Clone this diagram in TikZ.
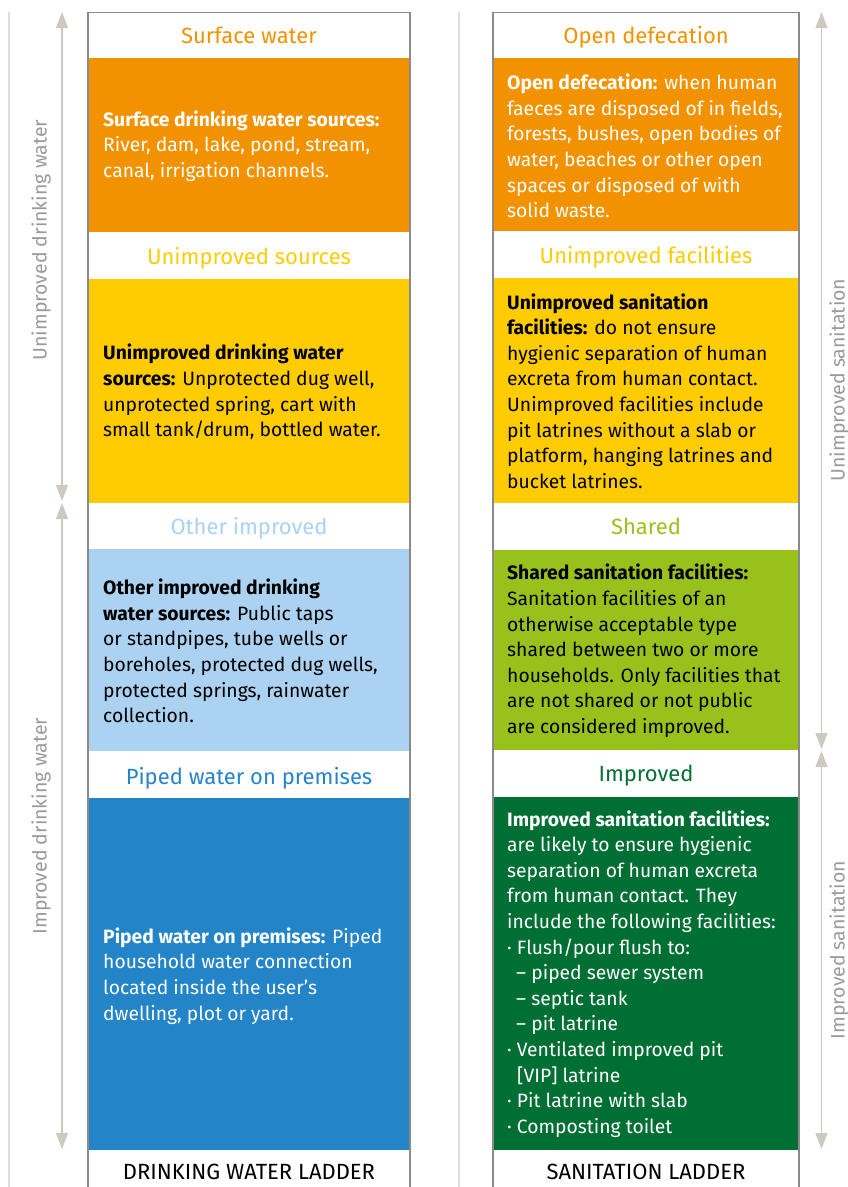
\documentclass[tikz,border=0pt]{standalone}
\usepackage{fontspec}
\setmainfont{Fira Sans}
\usetikzlibrary{arrows.meta}
\definecolor{cOrange}{HTML}{F39200}
\definecolor{cYellow}{HTML}{FECC00}
\definecolor{cLBlue}{HTML}{ABD2F1}
\definecolor{cBlue}{HTML}{2384C8}
\definecolor{cLime}{HTML}{98C21B}
\definecolor{cGreen}{HTML}{006F33}
\definecolor{cOutline}{HTML}{8A8A8A}
\definecolor{cArrow}{HTML}{CEC9BE}
\definecolor{cRule}{HTML}{DDDDDD}
\definecolor{cSide}{HTML}{9A9A9A}
\tikzset{
  bodytext/.style={anchor=west, align=left, inner sep=0pt, font=\fontsize{19.3}{25.6}\selectfont},
  headtext/.style={anchor=base, inner sep=0pt, font=\fontsize{22}{24}\selectfont},
  foottext/.style={anchor=base, inner sep=0pt, font=\fontsize{22}{24}\selectfont, text=black},
  sidetext/.style={anchor=center, inner sep=0pt, rotate=90, text=cSide, font=\fontsize{19.5}{22}\selectfont},
  ladderarrow/.style={draw=cArrow, line width=1.3pt, {Triangle[width=12pt,length=16pt]}-{Triangle[width=12pt,length=16pt]}},
  outline/.style={draw=cOutline, line width=1.3pt},
  rulel/.style={draw=cRule, line width=1.5pt}
}
\begin{document}
\begin{tikzpicture}[x=1pt,y=-1pt]
\useasboundingbox (0,0) rectangle (848,1187);
% rules
\draw[rulel] (9,12) -- (9,1187);
\draw[rulel] (459,12) -- (459,1187);
% left bands
\fill[cOrange] (88,58) rectangle (410,232);
\fill[cYellow] (88,279) rectangle (410,503);
\fill[cLBlue] (88,549) rectangle (410,751);
\fill[cBlue] (88,798) rectangle (410,1150);
% right bands
\fill[cOrange] (493,58) rectangle (799,231);
\fill[cYellow] (493,278) rectangle (799,503);
\fill[cLime] (493,550) rectangle (799,750);
\fill[cGreen] (493,797) rectangle (799,1150);
% outlines
\draw[outline] (88,1187) -- (88,12.5) -- (410,12.5) -- (410,1187);
\draw[outline] (493,1187) -- (493,12.5) -- (799,12.5) -- (799,1187);
% arrows
\coordinate (la1) at (62,12);
\coordinate (la2) at (62,501);
\coordinate (la3) at (62,503);
\coordinate (la4) at (62,1149);
\coordinate (ra1) at (821.5,12);
\coordinate (ra2) at (821.5,749);
\coordinate (ra3) at (821.5,751);
\coordinate (ra4) at (821.5,1149);
\draw[ladderarrow] (la1) -- (la2);
\draw[ladderarrow] (la3) -- (la4);
\draw[ladderarrow] (ra1) -- (ra2);
\draw[ladderarrow] (ra3) -- (ra4);
% side labels
\node[sidetext] (sl1) at (41,240) {Unimproved drinking water};
\node[sidetext] (sl2) at (41,826) {Improved drinking water};
\node[sidetext] (sr1) at (839,380) {Unimproved sanitation};
\node[sidetext] (sr2) at (839,950) {Improved sanitation};
% left headers
\node[headtext, text=cOrange] (lh1) at (249,43) {Surface water};
\node[headtext, text=cYellow] (lh2) at (249,264) {Unimproved sources};
\node[headtext, text=cLBlue] (lh3) at (249,534) {Other improved};
\node[headtext, text=cBlue] (lh4) at (249,784) {Piped water on premises};
\node[foottext] (lf) at (249,1179) {DRINKING WATER LADDER};
% right headers
\node[headtext, text=cOrange] (rh1) at (646,43) {Open defecation};
\node[headtext, text=cYellow] (rh2) at (646,263) {Unimproved facilities};
\node[headtext, text=cLime] (rh3) at (646,534) {Shared};
\node[headtext, text=cGreen] (rh4) at (646,781) {Improved};
\node[foottext] (rf) at (646,1179) {SANITATION LADDER};
% left body
\node[bodytext, text=white] (lb1) at (103,146) {\textbf{Surface drinking water sources:}\\River, dam, lake, pond, stream,\\canal, irrigation channels.};
\node[bodytext, text=black] (lb2) at (103,392) {\textbf{Unimproved drinking water}\\\textbf{sources:} Unprotected dug well,\\unprotected spring, cart with\\small tank/drum, bottled water.};
\node[bodytext, text=black] (lb3) at (103,651) {\textbf{Other improved drinking}\\\textbf{water sources:} Public taps\\or standpipes, tube wells or\\boreholes, protected dug wells,\\protected springs, rainwater\\collection.};
\node[bodytext, text=white] (lb4) at (103,976) {\textbf{Piped water on premises:} Piped\\household water connection\\located inside the user’s\\dwelling, plot or yard.};
% right body
\node[bodytext, text=white] (rb1) at (507,146) {\textbf{Open defecation:} when human\\faeces are disposed of in fields,\\forests, bushes, open bodies of\\water, beaches or other open\\spaces or disposed of with\\solid waste.};
\node[bodytext, text=black] (rb2) at (507,391) {\textbf{Unimproved sanitation}\\\textbf{facilities:} do not ensure\\hygienic separation of human\\excreta from human contact.\\Unimproved facilities include\\pit latrines without a slab or\\platform, hanging latrines and\\bucket latrines.};
\node[bodytext, text=black] (rb3) at (507,651) {\textbf{Shared sanitation facilities:}\\Sanitation facilities of an\\otherwise acceptable type\\shared between two or more\\households. Only facilities that\\are not shared or not public\\are considered improved.};
\node[bodytext, text=white] (rb4) at (507,974) {\textbf{Improved sanitation facilities:}\\are likely to ensure hygienic\\separation of human excreta\\from human contact. They\\include the following facilities:\\· Flush/pour flush to:\\\hspace*{9pt}– piped sewer system\\\hspace*{9pt}– septic tank\\\hspace*{9pt}– pit latrine\\· Ventilated improved pit\\\hspace*{10pt}[VIP] latrine\\· Pit latrine with slab\\· Composting toilet};
\end{tikzpicture}
\end{document}
